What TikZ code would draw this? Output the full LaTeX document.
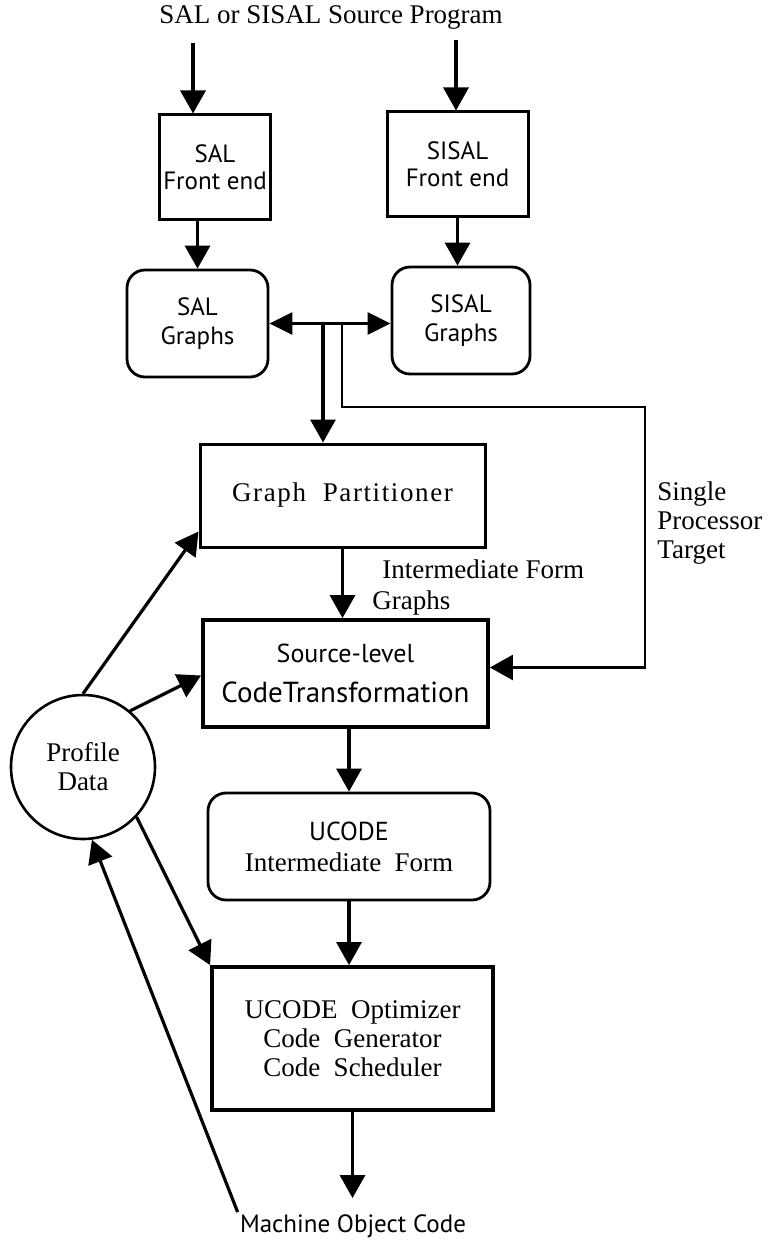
\documentclass[tikz,border=0pt]{standalone}
\usepackage{fontspec}
\setmainfont{Liberation Serif}
\newfontfamily\optfont{PT Sans}
\usetikzlibrary{shapes.geometric,arrows.meta,positioning}

\begin{document}
\begin{tikzpicture}[
    x=0.5pt, y=-0.5pt,
    font=\fontsize{13.5}{14.5}\selectfont,
    sans/.style={font=\optfont\fontsize{12.5}{13.5}\selectfont},
    stage/.style={rectangle, draw, line width=1.5pt, align=center, inner sep=2pt},
    graphbox/.style={rectangle, rounded corners=9pt, draw, line width=1.4pt, align=center},
    flow/.style={-{Triangle[length=11.5pt, width=12.5pt]}, line width=1.6pt},
    both/.style={{Triangle[length=11.5pt, width=11pt]}-{Triangle[length=11.5pt, width=11pt]}, line width=1.6pt},
]
\useasboundingbox (0,0) rectangle (774,1241);

% source program and the two front ends
\node (title) at (331,17) {SAL or SISAL Source Program};
\coordinate (inl) at (193,43);
\coordinate (inr) at (456,40);
\node[stage, sans, minimum width=50pt, minimum height=52.5pt] (salfe) at (215,167.5) {SAL\\Front end};
\node[stage, sans, minimum width=70.5pt, minimum height=52.5pt] (sisalfe) at (457.5,164.5) {SISAL\\Front end};
\node[graphbox, sans, font=\optfont\fontsize{12.5}{14.5}\selectfont, minimum width=70.5pt, minimum height=53.5pt] (salgr) at (197.5,323.5) {SAL\\Graphs};
\node[graphbox, sans, font=\optfont\fontsize{12.5}{14.5}\selectfont, minimum width=69pt, minimum height=53.5pt] (sisalgr) at (461,320.5) {SISAL\\Graphs};

\draw[flow] (inl) -- (inl |- salfe.north);
\draw[flow] (inr) -- (inr |- sisalfe.north);
\draw[flow] (salgr.north |- salfe.south) -- (salgr.north);
\draw[flow] (sisalfe.south) -- (sisalfe.south |- sisalgr.north);
\draw[both] (salgr.east) -- (salgr.east -| sisalgr.west);

% partitioner and transformation
\node[stage, minimum width=142.5pt, minimum height=51.5pt] (part) at (342.5,495.5) {\addfontfeature{LetterSpace=6}Graph~~Partitioner};
\node[align=left, anchor=west, inner sep=0pt] (ifgraphs) at (372,588) {\hspace{5pt}Intermediate Form\\[1pt]Graphs};
\node[stage, sans, line width=1.9pt, font=\optfont\fontsize{13}{14}\selectfont, minimum width=142.5pt, minimum height=53.5pt] (src) at (345.5,673.5) {Source-level\\[6pt]{\fontsize{14.5}{15}\selectfont CodeTransformation}};
\node[align=left, anchor=west, inner sep=0pt] (sptarget) at (657,523) {Single\\Processor\\Target};

\coordinate (tapl) at (323,323.5);
\coordinate (tapr) at (342,323.5);
\coordinate (loopne) at (645,407);
\draw[flow] (tapl) -- (tapl |- part.north);
\draw[flow, line width=1.3pt] (tapr) |- (loopne) |- ([yshift=3pt]src.east);
\draw[flow] (part.south) -- (part.south |- src.north);

% ucode back end
\node[graphbox, minimum width=141pt, minimum height=53.5pt] (ucif) at (349,846.5) {{\optfont\fontsize{13}{14}\selectfont UCODE}\\[1pt]Intermediate~~Form};
\node[stage, line width=1.9pt, minimum width=140.5pt, minimum height=71.5pt] (opt) at (352.5,1038.5) {UCODE~~Optimizer\\Code~~Generator\\Code~~Scheduler};
\node[sans, inner sep=1pt] (mach) at (353,1226) {Machine Object Code};

\draw[flow] (ucif.north |- src.south) -- (ucif.north);
\draw[flow] (ucif.south) -- (ucif.south |- opt.north);
\draw[flow, shorten >=7pt] (opt.south) -- (opt.south |- mach.north);

% profile feedback
\node[circle, draw, line width=1.3pt, minimum size=72pt, inner sep=0pt, align=center] (profile) at (83,767) {Profile\\Data};
\draw[flow] (profile.north) -- ([yshift=8.5pt]part.south west);
\draw[flow] (profile.50) -- ([yshift=-1pt]src.west);
\draw[flow] (profile.-43) -- (opt.north west);
\draw[flow] (mach.north west) -- (profile.-83);

\end{tikzpicture}
\end{document}
